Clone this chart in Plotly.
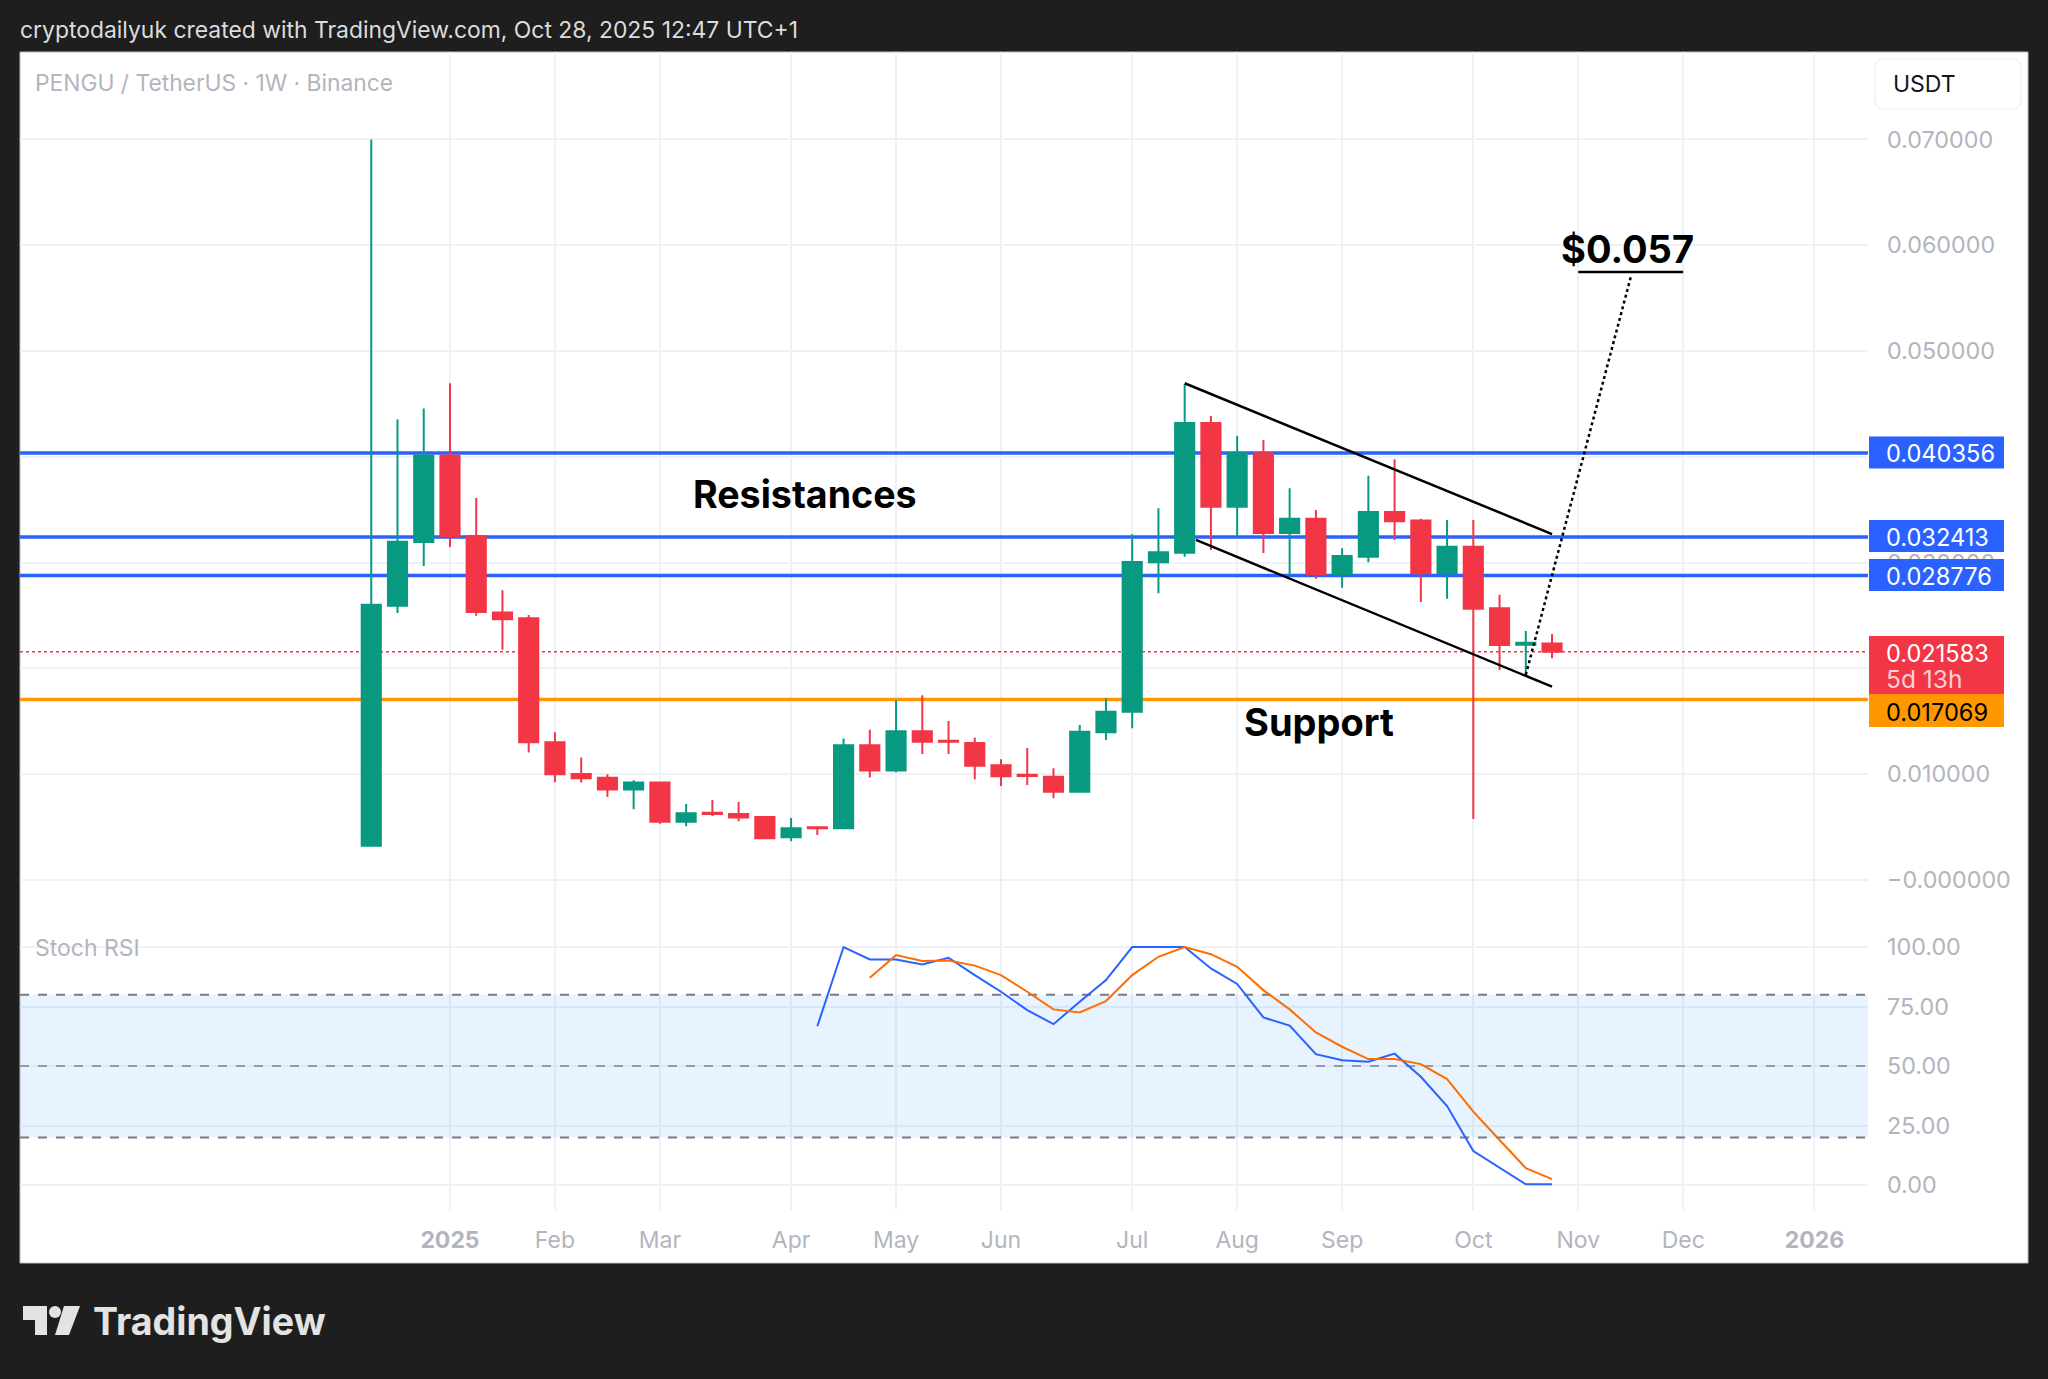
import plotly.graph_objects as go

# weekly candles PENGU/USDT
weeks = ["2024-12-16", "2024-12-23", "2024-12-30", "2025-01-06", "2025-01-13", "2025-01-20", "2025-01-27",
         "2025-02-03", "2025-02-10", "2025-02-17", "2025-02-24", "2025-03-03", "2025-03-10", "2025-03-17",
         "2025-03-24", "2025-03-31", "2025-04-07", "2025-04-14", "2025-04-21", "2025-04-28", "2025-05-05",
         "2025-05-12", "2025-05-19", "2025-05-26", "2025-06-02", "2025-06-09", "2025-06-16", "2025-06-23",
         "2025-06-30", "2025-07-07", "2025-07-14", "2025-07-21", "2025-07-28", "2025-08-04", "2025-08-11",
         "2025-08-18", "2025-08-25", "2025-09-01", "2025-09-08", "2025-09-15", "2025-09-22", "2025-09-29",
         "2025-10-06", "2025-10-13", "2025-10-20", "2025-10-27"]
opens = [.00325, .02593, .03194, .04013, .03252, .02529, .02474, .01301, .01003, .00966, .00856, .00921,
         .00550, .00636, .00623, .00595, .00404, .00499, .00490, .01273, .01035, .01406, .01317, .01295,
         .01084, .00995, .00977, .00835, .01396, .01591, .03003, .03094, .04319, .03528, .04033, .03280,
         .03415, .02892, .03056, .03478, .03397, .02899, .03150, .02568, .02224, .02236]
highs = [.07000, .04356, .04457, .04696, .03610, .02739, .02505, .01397, .01159, .00999, .00943, .00921,
         .00719, .00756, .00737, .00605, .00586, .00505, .01337, .01420, .01699, .01746, .01503, .01348,
         .01141, .01248, .01056, .01465, .01717, .03267, .03513, .04688, .04386, .04197, .04159, .03702,
         .03497, .03135, .03821, .03976, .03415, .03403, .03403, .02697, .02353, .02325]
lows = [.00325, .02524, .02969, .03147, .02497, .02176, .01205, .00925, .00921, .00784, .00669, .00532,
        .00508, .00605, .00555, .00394, .00367, .00426, .00490, .00970, .01018, .01191, .01191, .00952,
        .00888, .00898, .00772, .00825, .01323, .01434, .02710, .03056, .03119, .03245, .03091, .02883,
        .02848, .02763, .03003, .03214, .02628, .02659, .00577, .01985, .01938, .02095]
closes = [.02602, .03198, .04013, .03252, .02533, .02465, .01301, .00999, .00962, .00856, .00921, .00550,
          .00632, .00623, .00591, .00394, .00490, .00490, .01273, .01035, .01406, .01307, .01307, .01080,
          .00980, .00983, .00835, .01402, .01591, .03006, .03097, .04319, .03528, .04033, .03280, .03415,
          .02892, .03062, .03478, .03390, .02899, .03150, .02564, .02221, .02243, .02158]

# stoch rsi
k_weeks = weeks[17:]
k_values = [66.7, 100, 94.8, 94.8, 92.7, 95.5, 88.2, 81.2, 73.5, 67.6, 77, 86.1, 100, 100, 100, 91, 84.5,
            70.4, 67, 55, 52.4, 51.8, 55.2, 45.5, 33.2, 14.3, 7.3, 0.3, 0.3]
d_weeks = weeks[19:]
d_values = [87.1, 96.6, 94.1, 94.3, 92.2, 88.2, 81.2, 73.8, 72.5, 77.3, 88.2, 95.9, 100, 97, 91.7, 81.9,
            73.8, 64.1, 58.1, 52.9, 52.9, 50.8, 44.5, 30.8, 18.9, 7.1, 2.5]

# levels
resistances = [0.040356, 0.032413, 0.028776]
support = 0.017069
last_price = 0.021583

# axis ticks
month_ticks = ["2025-01-06", "2025-02-03", "2025-03-03", "2025-04-07", "2025-05-05", "2025-06-02", "2025-07-07",
               "2025-08-04", "2025-09-01", "2025-10-06", "2025-11-03", "2025-12-01", "2026-01-05"]
month_labels = ["<b>2025</b>", "Feb", "Mar", "Apr", "May", "Jun", "Jul", "Aug", "Sep", "Oct", "Nov", "Dec", "<b>2026</b>"]
price_ticks = [0.07, 0.06, 0.05, 0.04, 0.03, 0.02, 0.01, 0]
price_labels = ["0.070000", "0.060000", "0.050000", "0.040000", "0.030000", "0.020000", "0.010000", "−0.000000"]
stoch_ticks = [100, 75, 50, 25, 0]
stoch_labels = ["100.00", "75.00", "50.00", "25.00", "0.00"]

# drawings
channel_top_x = ["2025-07-21", "2025-10-27"]
channel_top_y = [0.04695, 0.03270]
channel_bottom_x = ["2025-07-24", "2025-10-27"]
channel_bottom_y = [0.03214, 0.01827]
target_x = ["2025-10-20", "2025-11-17"]
target_y = [0.0194, 0.05699]
underline_x = ["2025-11-03", "2025-12-01"]
underline_y = [0.05747, 0.05747]

W, H = 2048, 1379
DARK = "#1e1e1e"
GRID = "#f0f1f4"
MUTED = "#b2b5be"
BLUE = "#2962ff"
ORANGE = "#ff9800"
RED = "#f23645"
GREEN = "#089981"
FONT = "Inter"
X_RANGE = ["2024-09-13 07:00", "2026-01-19 07:00"]


def px(x):
    return x / W


def py(y):
    return 1 - y / H


def box(fig, x0, y0, x1, y1, color, line="rgba(0,0,0,0)", layer="above"):
    fig.add_shape(type="rect", xref="paper", yref="paper", x0=px(x0), x1=px(x1), y0=py(y0), y1=py(y1),
                  fillcolor=color, line=dict(color=line, width=1), layer=layer)


def label(fig, x, y, text, color, size, anchor="left"):
    fig.add_annotation(xref="paper", yref="paper", x=px(x), y=py(y), text=text, showarrow=False,
                       xanchor=anchor, yanchor="middle", align="left",
                       font=dict(family=FONT, size=size, color=color))


def hline(fig, xref, yref, level, color, width, dash="solid"):
    # "between" keeps it over the grid but under the candles
    fig.add_shape(type="line", xref=xref, yref=yref, x0=X_RANGE[0], x1=X_RANGE[1], y0=level, y1=level,
                  line=dict(color=color, width=width, dash=dash), layer="between")


fig = go.Figure()

# white panel goes first so everything sits on it
box(fig, 20, 52, 2028, 1263, "white", line="#bdbdbd", layer="below")

for level in resistances:
    hline(fig, "x", "y", level, BLUE, 3.5)
hline(fig, "x", "y", support, ORANGE, 3.5)
hline(fig, "x", "y", last_price, RED, 1.5, "dot")

# stoch band
fig.add_shape(type="rect", xref="x2", yref="y2", x0=X_RANGE[0], x1=X_RANGE[1], y0=20, y1=80,
              fillcolor="rgba(33,150,243,0.11)", line=dict(width=0), layer="between")
hline(fig, "x2", "y2", 80, "#787b86", 2, "dash")
hline(fig, "x2", "y2", 50, "#9599a3", 2, "dash")
hline(fig, "x2", "y2", 20, "#787b86", 2, "dash")

fig.add_trace(go.Candlestick(x=weeks, open=opens, high=highs, low=lows, close=closes,
                             whiskerwidth=0, showlegend=False, xaxis="x", yaxis="y",
                             increasing=dict(line=dict(color=GREEN, width=2), fillcolor=GREEN),
                             decreasing=dict(line=dict(color=RED, width=2), fillcolor=RED)))

for xs, ys, dash in [(channel_top_x, channel_top_y, "solid"), (channel_bottom_x, channel_bottom_y, "solid"),
                     (target_x, target_y, "dot"), (underline_x, underline_y, "solid")]:
    fig.add_trace(go.Scatter(x=xs, y=ys, mode="lines", showlegend=False, xaxis="x", yaxis="y",
                             line=dict(color="black", width=2.5, dash=dash)))

fig.add_trace(go.Scatter(x=k_weeks, y=k_values, mode="lines", showlegend=False, xaxis="x2", yaxis="y2",
                         line=dict(color="#2962ff", width=2)))
fig.add_trace(go.Scatter(x=d_weeks, y=d_values, mode="lines", showlegend=False, xaxis="x2", yaxis="y2",
                         line=dict(color="#ff6d00", width=2)))

# price labels on the right scale
for level, top in zip(resistances, [436.5, 520, 559]):
    box(fig, 1869, top, 2004, top + 32, BLUE)
    label(fig, 1884, top + 17, f"{level:.6f}", "white", 23.6)
box(fig, 1869, 636, 2004, 694, RED)
label(fig, 1884, 653, f"{last_price:.6f}", "white", 23.6)
label(fig, 1884, 679, "5d 13h", "#fbd0d5", 24.5)
box(fig, 1869, 694, 2004, 727, ORANGE)
label(fig, 1884, 712, f"{support:.6f}", "black", 23.6)

# USDT button
fig.add_shape(type="path", xref="paper", yref="paper", line=dict(color="#f0f3fa", width=1.5), fillcolor="white",
              path=f"M {px(1885)} {py(59)} L {px(2011)} {py(59)} Q {px(2021)} {py(59)} {px(2021)} {py(69)} "
                   f"L {px(2021)} {py(99)} Q {px(2021)} {py(109)} {px(2011)} {py(109)} L {px(1885)} {py(109)} "
                   f"Q {px(1875)} {py(109)} {px(1875)} {py(99)} L {px(1875)} {py(69)} "
                   f"Q {px(1875)} {py(59)} {px(1885)} {py(59)} Z")
label(fig, 1891, 84, "USDT", "#131722", 23)

# texts
label(fig, 18, 30, "cryptodailyuk created with TradingView.com, Oct 28, 2025 12:47 UTC+1", "#dcdcdc", 22.9)
label(fig, 32.5, 82, "PENGU / TetherUS · 1W · Binance", MUTED, 22.8)
label(fig, 32.5, 948, "Stoch RSI", MUTED, 23)
label(fig, 691, 494, "<b>Resistances</b>", "black", 37.6)
label(fig, 1242, 722, "<b>Support</b>", "black", 38)
label(fig, 1559, 249, "<b>$0.057</b>", "black", 38)
label(fig, 91, 1321, "<b>TradingView</b>", "#e3e3e3", 37.6)

# logo
logo = "#e3e3e3"
fig.add_shape(type="path", xref="paper", yref="paper", fillcolor=logo, line=dict(width=0),
              path=f"M {px(23)} {py(1306)} L {px(47)} {py(1306)} L {px(47)} {py(1335)} L {px(35)} {py(1335)} "
                   f"L {px(35)} {py(1320)} L {px(23)} {py(1320)} Z")
fig.add_shape(type="circle", xref="paper", yref="paper", fillcolor=logo, line=dict(width=0),
              x0=px(49), x1=px(61), y0=py(1318), y1=py(1306))
fig.add_shape(type="path", xref="paper", yref="paper", fillcolor=logo, line=dict(width=0),
              path=f"M {px(64)} {py(1306)} L {px(80)} {py(1306)} L {px(69)} {py(1335)} L {px(55)} {py(1335)} Z")

x_common = dict(type="date", range=X_RANGE, domain=[px(20), px(1868)],
                tickmode="array", tickvals=month_ticks, showgrid=True, gridcolor=GRID, gridwidth=1.5,
                zeroline=False, showline=False, rangeslider=dict(visible=False))
y_common = dict(side="right", tickmode="array", showgrid=True, gridcolor=GRID, gridwidth=1.5, zeroline=False,
                showline=False, ticks="", ticklabelstandoff=18,
                tickfont=dict(family=FONT, size=23.3, color=MUTED))

fig.update_layout(
    width=W, height=H, autosize=False, margin=dict(l=0, r=0, t=0, b=0),
    paper_bgcolor=DARK, plot_bgcolor="rgba(0,0,0,0)", showlegend=False, boxgap=0.27, boxgroupgap=0,
    font=dict(family=FONT),
    xaxis=dict(x_common, anchor="y", showticklabels=False),
    xaxis2=dict(x_common, anchor="y2", ticktext=month_labels, ticklabelstandoff=14,
                tickfont=dict(family=FONT, size=23, color=MUTED)),
    yaxis=dict(y_common, anchor="x", domain=[py(918), py(52)], range=[-0.00359, 0.07826],
               tickvals=price_ticks, ticktext=price_labels),
    yaxis2=dict(y_common, anchor="x2", domain=[py(1210), py(918)], range=[-10.5, 112.2],
                tickvals=stoch_ticks, ticktext=stoch_labels),
)

# page margin would push the chart off the photo
fig.write_html("out.html", config={"displayModeBar": False},
               post_script="document.body.style.margin='0';document.body.style.background='#1e1e1e';")
